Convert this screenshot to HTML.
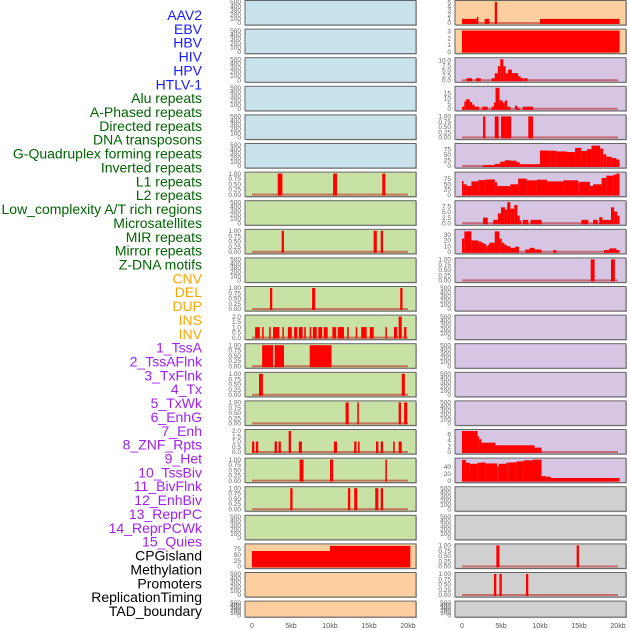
<!DOCTYPE html>
<html><head><meta charset="utf-8"><style>
html,body{margin:0;padding:0;background:#fff;width:630px;height:630px;overflow:hidden}
svg{display:block}
</style></head><body>
<svg id="chart" width="630" height="630" viewBox="0 0 630 630" xmlns="http://www.w3.org/2000/svg" font-family="Liberation Sans, sans-serif"></svg>
<script>
// ---------- data ----------
const labelNames = ["AAV2","EBV","HBV","HIV","HPV","HTLV-1","Alu repeats","A-Phased repeats","Directed repeats","DNA transposons","G-Quadruplex forming repeats","Inverted repeats","L1 repeats","L2 repeats","Low_complexity A/T rich regions","Microsatellites","MIR repeats","Mirror repeats","Z-DNA motifs","CNV","DEL","DUP","INS","INV","1_TssA","2_TssAFlnk","3_TxFlnk","4_Tx","5_TxWk","6_EnhG","7_Enh","8_ZNF_Rpts","9_Het","10_TssBiv","11_BivFlnk","12_EnhBiv","13_ReprPC","14_ReprPCWk","15_Quies","CPGisland","Methylation","Promoters","ReplicationTiming","TAD_boundary"];
const labelGroups = ["b","b","b","b","b","b","g","g","g","g","g","g","g","g","g","g","g","g","g","o","o","o","o","o","p","p","p","p","p","p","p","p","p","p","p","p","p","p","p","k","k","k","k","k"];
const xTickLabels = ["0","5kb","10kb","15kb","20kb"];
const xTickValues = [0,5,10,15,20];

const tickEmpty = ["0","100","200","300","400","500"];
const tickUnit = ["0.00","0.25","0.50","0.75","1.00"];
const tickTwo = ["0.0","0.5","1.0","1.5","2.0"];
const tick75 = ["0","25","50","75"];
const tick5 = ["0","1","2","3","4","5"];
const tick3 = ["0","1","2","3"];
const tick10 = ["0.0","2.5","5.0","7.5","10.0"];
const tick15 = ["0","5","10","15"];
const tick7 = ["0.0","2.5","5.0","7.5"];
const tick30 = ["0","10","20","30"];
const tick6 = ["0","2","4","6"];
const tick40 = ["0","20","40"];

const leftBg = ["b","b","b","b","b","b","g","g","g","g","g","g","g","g","g","g","g","g","g","o","o","o"];
const rightBg = ["o","o","p","p","p","p","p","p","p","p","p","p","p","p","p","p","p","k","k","k","k","k"];
const leftTicks = [tickEmpty,tickEmpty,tickEmpty,tickEmpty,tickEmpty,tickEmpty,tickUnit,tickEmpty,tickUnit,tickEmpty,tickUnit,tickTwo,tickUnit,tickUnit,tickUnit,tickTwo,tickUnit,tickUnit,tickEmpty,tick75,tickEmpty,tickEmpty];
const rightTicks = [tick5,tick3,tick10,tick15,tickUnit,tick75,tick75,tick7,tick30,tickUnit,tickEmpty,tickEmpty,tickEmpty,tickEmpty,tickEmpty,tick6,tick40,tickEmpty,tickEmpty,tickUnit,tickUnit,tickEmpty];
const leftMax = [500,500,500,500,500,500,1,500,1,500,1,2,1,1,1,2,1,1,500,90,500,500];
const rightMax = [5.1,3.1,10.5,20,1,95,100,9.4,37,1,500,500,500,500,500,7.2,60,500,500,1,1,500];

// segments: [startKb, endKb, value]
const leftSegs = [[],[],[],[],[],[],
 [[3.3,3.9,1],[10.4,10.9,1],[16.7,17.1,1]],
 [],
 [[3.8,4.1,1],[15.6,16.0,1],[16.5,16.8,1]],
 [],
 [[2.3,2.6,1],[7.7,8.1,1],[19.0,19.3,1]],
 [[0.4,1.0,1],[1.3,1.5,1],[2.2,2.4,1],[2.7,3.5,1],[3.9,4.0,1],[4.6,5.1,1],[5.4,5.8,1],[6.0,6.5,1],[6.7,6.9,1],[7.4,7.6,1],[7.8,8.3,1],[8.5,9.0,1],[9.2,9.7,1],[10.3,10.8,1],[11.0,11.8,1],[12.2,12.4,1],[13.3,13.5,1],[14.0,14.7,1],[15.1,15.6,1],[17.1,17.3,1],[18.2,18.6,1],[18.8,19.2,2],[19.5,19.8,1]],
 [[1.3,2.7,1],[2.9,4.1,1],[7.4,10.2,1]],
 [[0.9,1.4,1],[19.2,19.6,1]],
 [[12.0,12.4,1],[13.5,13.7,1],[18.8,19.1,1],[19.5,19.9,1]],
 [[0.0,0.3,1],[0.5,0.8,1],[2.9,3.2,1],[3.4,3.7,1],[4.7,5.0,2],[6.0,6.4,1],[10.5,10.9,1],[13.1,13.4,1],[13.6,13.8,1],[15.9,16.2,1],[16.5,16.8,1],[18.1,18.3,1],[18.8,19.2,1]],
 [[6.1,6.6,1],[10.0,10.4,1],[17.1,17.3,1]],
 [[4.9,5.2,1],[12.3,12.6,1],[13.1,13.5,1],[15.8,16.2,1],[16.5,16.8,1]],
 [],
 [[0,10,66],[10,20.3,88]],
 [],[]];
const rightSegs = [
 [[0,1.9,1],[1.9,2.0,1.5],[2.9,3.5,1],[4.2,4.5,5.1],[10,20.2,1]],
 [[0,20.2,3.1]],
 [[0.6,1.3,1],[1.8,2.4,1],[3.8,4.2,1],[4.2,4.6,3.5],[4.6,4.9,7],[4.9,5.3,10.5],[5.3,5.6,7],[5.6,5.9,3.5],[5.9,6.4,5.3],[6.4,7.2,3.5],[7.2,7.5,2],[7.5,7.9,1],[8.0,8.4,1]],
 [[0.0,0.3,2],[0.3,0.5,7],[0.5,1.0,9],[1.0,1.3,6.5],[1.3,1.6,4],[1.6,2.2,2],[2.6,3.3,2],[3.8,4.1,2],[4.1,4.3,6],[4.3,4.8,20],[4.8,5.2,8],[5.2,5.5,6],[5.5,5.8,8],[5.8,6.2,2],[6.8,7.1,3],[7.1,7.4,1],[7.8,9.1,2]],
 [[2.7,3.0,1],[4.2,4.7,1],[5.0,6.3,1],[8.5,9.1,1]],
 [[2.7,4.2,4],[4.2,4.9,10],[4.9,5.5,20],[5.5,6.2,26],[6.2,7.0,24],[7.0,7.4,17],[7.4,10.0,8],[10.0,11.3,70],[11.3,12.1,69],[12.1,13.4,66],[13.4,14.5,63],[14.5,15.3,82],[15.3,16.0,68],[16.0,16.6,76],[16.6,17.7,92],[17.7,18.1,79],[18.1,18.5,53],[18.5,19.2,42],[19.2,19.8,36],[19.8,20.2,29]],
 [[0,0.2,65],[0.2,0.6,49],[0.6,1.2,41],[1.2,2.1,63],[2.1,3.0,69],[3.0,4.2,72],[4.2,4.5,59],[4.5,6.2,41],[6.2,7.2,49],[7.2,8.3,76],[8.3,9.6,68],[9.6,10.9,71],[10.9,13.0,63],[13.0,14.9,68],[14.9,15.1,59],[15.1,16.4,61],[16.4,16.8,41],[16.8,17.9,49],[17.9,18.5,79],[18.5,19.4,90],[19.4,19.8,95],[19.8,20.2,100]],
 [[2.7,3.3,2.5],[4.0,4.6,1.5],[4.6,5.0,4.4],[5.0,5.5,7.1],[5.5,5.8,6.1],[5.8,6.2,9.4],[6.2,6.7,6.5],[6.7,7.1,8.1],[7.1,7.4,3.4],[7.4,7.6,1.2],[7.8,8.5,1.5],[8.8,10.2,1.5],[15.3,16.2,1.5],[16.8,17.4,1.5],[17.6,18.0,2.7],[18.0,19.1,1.5],[19.1,19.5,7.1],[19.5,19.9,5.3],[19.9,20.2,3.4]],
 [[0,0.3,23],[0.3,1.2,36],[1.2,2.1,20],[2.1,2.5,18],[2.5,2.8,16],[2.8,3.1,14],[3.1,3.3,10],[3.3,3.5,12],[3.5,4.2,16],[4.2,4.8,36],[4.8,5.1,23],[5.1,5.4,16],[5.4,5.7,13],[5.7,6.2,10],[6.2,6.8,7],[6.8,7.3,9],[8.1,8.7,4],[8.7,9.3,7],[9.3,10.2,4],[11.7,12.1,3],[18.2,18.9,3],[18.9,19.8,6],[19.8,20.2,3]],
 [[16.5,17.0,1],[19.1,19.6,1]],
 [],[],[],[],[],
 [[0,2.0,7.2],[2.0,2.2,5.4],[2.2,2.5,4.4],[2.5,4.3,3.2],[4.3,9.3,2.3],[9.3,10.2,1.5]],
 [[0,0.5,59],[0.5,1.0,51],[1.0,2.0,48],[2.0,2.5,51],[2.5,3.0,52],[3.0,4.5,49],[4.5,4.7,41],[4.7,5.7,48],[5.7,6.0,51],[6.0,7.0,52],[7.0,7.9,55],[7.9,9.1,58],[9.1,10.2,60],[10.2,10.8,12.5],[10.8,11.4,11],[11.4,20.2,7.5]],
 [],[],
 [[4.4,4.8,1],[14.7,15.0,1]],
 [[4.1,4.4,1],[4.8,5.1,1],[8.2,8.5,1]],
 []];

// ---------- drawing ----------
const NS = "http://www.w3.org/2000/svg";
const svg = document.getElementById("chart");
const bgColors = {b:"#c8e3eb", g:"#c8e1a5", o:"#fecf9e", p:"#d6c6e3", k:"#d0d0d0"};
const labelColors = {b:"#1a1aff", g:"#006400", o:"#ffa500", p:"#a020f0", k:"#000000"};
function mk(tag, attrs, parent){
  const e = document.createElementNS(NS, tag);
  for (const k in attrs) e.setAttribute(k, attrs[k]);
  (parent||svg).appendChild(e);
  return e;
}
function rowTop(i){ return 0.5 + i*28.6; }
function rowH(i){ return i === 21 ? 16 : 24.5; }
function xScale(left, kb){ return left + 7 + kb*7.8; }
function yScale(i, ymax, v){ const b = rowTop(i)+rowH(i); return b - 2 - v/ymax*(rowH(i)-3.5); }

// labels
for (let j=0;j<labelNames.length;j++){
  const t = mk("text", {x:202, y:15 + j*13.86 + 5, "text-anchor":"end", "font-size":"14", fill:labelColors[labelGroups[j]]});
  
  
  t.textContent = labelNames[j];
}

function drawColumn(left, side, bgs, ticks, maxes, segs){
  for (let i=0;i<22;i++){
    const top = rowTop(i), h = rowH(i), w = 171;
    const g = mk("g", {});
    
    
    mk("rect", {x:left+1, y:top+1, width:w, height:h, fill:"#b8b8b8"}, g);
    mk("rect", {x:left, y:top, width:w, height:h, fill:bgColors[bgs[i]], stroke:"#666", "stroke-width":"1"}, g);
    const ymax = maxes[i];
    // ticks
    const tl = ticks[i];
    for (let k=0;k<tl.length;k++){
      const v = parseFloat(tl[k]);
      const t = mk("text", {x:left-4, y:yScale(i,ymax,v)+2.2, "text-anchor":"end", "font-size":"6.5", fill:"#666"}, g);
      
      
      t.textContent = tl[k];
    }
    const s = segs[i];
    if (s.length){
      const y0 = yScale(i,ymax,0);
      const bl = mk("rect", {x:xScale(left,0), y:y0-1, width:xScale(left,20)-xScale(left,0), height:2, fill:"rgba(190,30,30,0.55)"}, g);
      
      
      for (const seg of s){
        const x0 = xScale(left, seg[0]), x1 = xScale(left, seg[1]);
        const yt = yScale(i, ymax, seg[2]);
        const r = mk("rect", {x:x0, y:yt, width:Math.max(1.5,x1-x0), height:y0-yt+1, fill:"#ff0000"}, g);
        
        
      }
    }
  }
  for (let k=0;k<xTickLabels.length;k++){
    const t = mk("text", {x:xScale(left,xTickValues[k]), y:628, "text-anchor":"middle", "font-size":"7", fill:"#555"});
    
    
    t.textContent = xTickLabels[k];
  }
}
drawColumn(245, "left", leftBg, leftTicks, leftMax, leftSegs);
drawColumn(455, "right", rightBg, rightTicks, rightMax, rightSegs);
</script>
</body></html>
